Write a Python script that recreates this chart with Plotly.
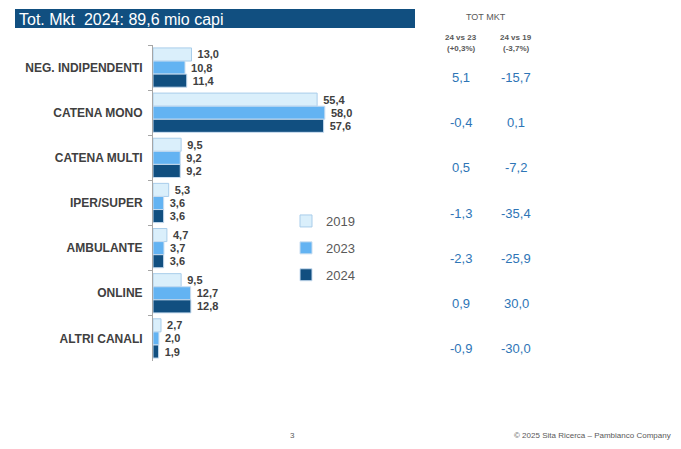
import plotly.graph_objects as go

categories = ["NEG. INDIPENDENTI", "CATENA MONO", "CATENA MULTI", "IPER/SUPER",
              "AMBULANTE", "ONLINE", "ALTRI CANALI"]
v2019 = [13.0, 55.4, 9.5, 5.3, 4.7, 9.5, 2.7]
v2023 = [10.8, 58.0, 9.2, 3.6, 3.7, 12.7, 2.0]
v2024 = [11.4, 57.6, 9.2, 3.6, 3.6, 12.8, 1.9]
d24vs23 = ["5,1", "-0,4", "0,5", "-1,3", "-2,3", "0,9", "-0,9"]
d24vs19 = ["-15,7", "0,1", "-7,2", "-35,4", "-25,9", "30,0", "-30,0"]
series_names = ["2019", "2023", "2024"]

W, H = 681, 449
L, R, T, B = 153, 291, 45, 88
PW, PH = W - L - R, H - T - B

def px(x):
    return (x - L) / PW

def py(y):
    return 1 - (y - T) / PH

def fmt(v):
    return "\u00a0" + f"{v:.1f}".replace(".", ",")

colors = ["#DAEFFB", "#63B3F2", "#114F80"]
lines = ["#A9CDEA", "#C9DDF0", "#C9DDF0"]
fig = go.Figure()
for name, vals, c, lc in zip(series_names, [v2019, v2023, v2024], colors, lines):
    fig.add_trace(go.Bar(
        y=categories, x=vals, orientation="h", name=name,
        marker=dict(color=c, line=dict(color=lc, width=1)),
        text=[fmt(v) for v in vals], textposition="outside",
        textfont=dict(family="Arial", size=11, color="#404040", weight="bold"),
        constraintext="none", cliponaxis=False, legendgroup=name,
        hoverinfo="skip",
    ))

ann = []
grey = "#595959"
ann.append(dict(x=px(17), y=py(19), xref="paper", yref="paper", text="Tot. Mkt  2024: 89,6 mio capi",
                showarrow=False, xanchor="left", yanchor="middle",
                font=dict(family="Arial", size=16, color="white")))
ann.append(dict(x=px(486), y=py(17), xref="paper", yref="paper", text="TOT MKT", showarrow=False,
                xanchor="center", yanchor="middle",
                font=dict(family="Arial", size=9, color=grey)))
for cx, t1, t2 in [(461, "24 vs 23", "(+0,3%)"), (516, "24 vs 19", "(-3,7%)")]:
    ann.append(dict(x=px(cx), y=py(37), xref="paper", yref="paper", text=t1, showarrow=False,
                    xanchor="center", yanchor="middle",
                    font=dict(family="Arial", size=8, color=grey, weight="bold")))
    ann.append(dict(x=px(cx), y=py(48), xref="paper", yref="paper", text=t2, showarrow=False,
                    xanchor="center", yanchor="middle",
                    font=dict(family="Arial", size=8, color=grey, weight="bold")))
for cat, a, b in zip(categories, d24vs23, d24vs19):
    for cx, t in [(461, a), (516, b)]:
        ann.append(dict(x=px(cx), y=cat, xref="paper", yref="y", yshift=-10, text=t, showarrow=False,
                        xanchor="center", yanchor="middle",
                        font=dict(family="Arial", size=13, color="#2E75B6")))
ann.append(dict(x=px(292), y=py(435), xref="paper", yref="paper", text="3", showarrow=False,
                xanchor="center", yanchor="middle",
                font=dict(family="Arial", size=8, color=grey)))
ann.append(dict(x=px(673), y=py(435), xref="paper", yref="paper",
                text="© 2025 Sita Ricerca – Pambianco Company", showarrow=False,
                xanchor="right", yanchor="middle",
                font=dict(family="Arial", size=8, color=grey)))

fig.update_layout(
    width=W, height=H, margin=dict(l=L, r=R, t=T, b=B, autoexpand=False),
    paper_bgcolor="white", plot_bgcolor="white",
    barmode="group", bargap=0.13, bargroupgap=0,
    showlegend=True,
    legend=dict(x=px(286), y=py(206), xanchor="left", yanchor="top", xref="paper", yref="paper",
                font=dict(family="Arial", size=13, color=grey), tracegroupgap=7,
                itemwidth=30, bgcolor="rgba(0,0,0,0)"),
    xaxis=dict(range=[0, 80], visible=False, fixedrange=True),
    yaxis=dict(autorange="reversed", showline=True, linecolor="#A6A6A6", linewidth=1,
               ticks="outside", tickson="boundaries", ticklen=4, tickcolor="#A6A6A6",
               showgrid=False, zeroline=False, fixedrange=True,
               tickfont=dict(family="Arial", size=12, color="#404040", weight="bold"),
               ticklabelstandoff=7),
    shapes=[dict(type="rect", xref="paper", yref="paper", x0=px(15), x1=px(415), y0=py(9), y1=py(28),
                 fillcolor="#114F80", line=dict(width=0), layer="below")],
    annotations=ann,
)
fig.write_html("out.html", config={"displayModeBar": False},
               post_script="document.body.style.margin='0';document.body.style.overflow='hidden';")
